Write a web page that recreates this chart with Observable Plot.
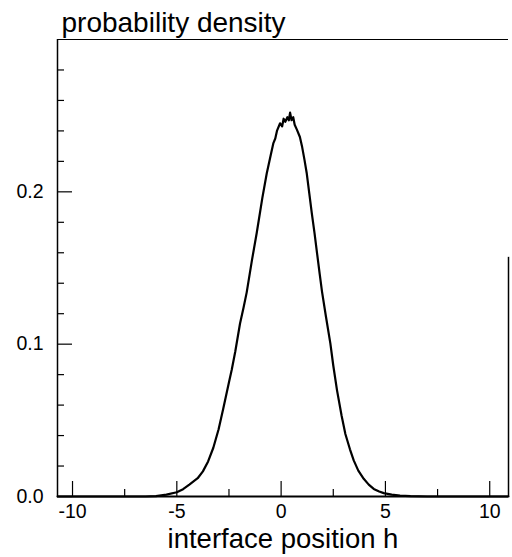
<!DOCTYPE html>
<html>
<head>
<meta charset="utf-8">
<script src="https://cdn.jsdelivr.net/npm/d3@7"></script>
<script src="https://cdn.jsdelivr.net/npm/@observablehq/plot@0.6"></script>
<style>
  html, body { margin: 0; padding: 0; background: #fff; }
  #chart svg { display: block; }
</style>
</head>
<body>
<div id="chart"></div>
<script>
// ---- data ----
const hValues = [
  -10.72, -8.0, -6.5, -6.0, -5.5, -5.0, -4.7, -4.4, -4.0, -3.75,
  -3.5, -3.25, -3.0, -2.77, -2.5, -2.37, -2.2, -1.97, -1.8, -1.65,
  -1.4, -1.17, -0.9, -0.69, -0.5, -0.37, -0.28, -0.2, -0.05, 0.05,
  0.12, 0.2, 0.3, 0.37, 0.43, 0.5, 0.58, 0.65, 0.75, 0.9,
  1.0, 1.12, 1.23, 1.35, 1.47, 1.6, 1.72, 1.85, 1.96, 2.15,
  2.36, 2.5, 2.68, 2.9, 3.08, 3.3, 3.48, 3.7, 3.96, 4.2,
  4.44, 4.7, 4.92, 5.3, 5.7, 6.2, 7.0, 10.9
];
const densityValues = [
  0.0, 0.0, 0.0, 0.0003, 0.0012, 0.0028, 0.0048, 0.0078, 0.0120, 0.0165,
  0.0230, 0.0320, 0.0440, 0.0580, 0.0750, 0.0830, 0.0950, 0.1136, 0.1240, 0.1340,
  0.1550, 0.1730, 0.1960, 0.2120, 0.2240, 0.2320, 0.2350, 0.2400, 0.2450, 0.2430,
  0.2480, 0.2460, 0.2490, 0.2470, 0.2520, 0.2470, 0.2490, 0.2440, 0.2410, 0.2360,
  0.2300, 0.2210, 0.2120, 0.1990, 0.1860, 0.1730, 0.1600, 0.1460, 0.1345, 0.1180,
  0.1005, 0.0860, 0.0697, 0.0530, 0.0410, 0.0310, 0.0237, 0.0170, 0.0116, 0.0078,
  0.0050, 0.0033, 0.0022, 0.0012, 0.0006, 0.0002, 0.0, 0.0
];
const xMajorTicks = [-10, -5, 0, 5, 10];
const xMinorTicks = [-7.5, -2.5, 2.5, 7.5];
const yMajorTicks = [0, 0.1, 0.2];
const yMinorTicks = [0.02, 0.04, 0.06, 0.08, 0.12, 0.14, 0.16, 0.18, 0.22, 0.24, 0.26, 0.28];
const xDomain = [-10.72, 10.9];
const yDomain = [0, 0.3];
const frameRightTop = 0.157; // the visible part of the right frame edge
const xLabel = "interface position h";
const yLabel = "probability density";

// ---- layout ----
const W = 512, H = 557;
const mL = 57, mR = 4, mT = 39, mB = 61;
const pw = W - mL - mR, ph = H - mT - mB;
const font = "'Liberation Sans', Arial, Helvetica, sans-serif";

const data = hValues.map((h, i) => ({h, p: densityValues[i]}));

const chart = Plot.plot({
  width: W,
  height: H,
  marginLeft: mL,
  marginRight: mR,
  marginTop: mT,
  marginBottom: mB,
  style: {fontFamily: font, color: "#000", background: "#fff", overflow: "visible"},
  x: {domain: xDomain},
  y: {domain: yDomain},
  marks: [
    // frame
    Plot.ruleX([xDomain[0]], {stroke: "#000", strokeWidth: 1.5}),
    Plot.ruleY([0], {stroke: "#000", strokeWidth: 2}),
    Plot.ruleY([yDomain[1]], {stroke: "#000", strokeWidth: 1.2}),
    Plot.ruleX([xDomain[1]], {y1: 0, y2: frameRightTop, stroke: "#000", strokeWidth: 1.5}),
    // inward ticks
    Plot.tickX(xMajorTicks, {x: d => d, insetTop: ph - 15, stroke: "#000", strokeWidth: 1.2}),
    Plot.tickX(xMinorTicks, {x: d => d, insetTop: ph - 7, stroke: "#000", strokeWidth: 1.2}),
    Plot.tickY(yMajorTicks, {y: d => d, insetRight: pw - 15, stroke: "#000", strokeWidth: 1.2}),
    Plot.tickY(yMinorTicks, {y: d => d, insetRight: pw - 7, stroke: "#000", strokeWidth: 1.2}),
    // tick labels
    Plot.axisX(xMajorTicks, {tickSize: 0, tickPadding: 8, fontSize: 19.5, tickFormat: d => String(d), label: null}),
    Plot.axisY(yMajorTicks, {tickSize: 0, tickPadding: 14, fontSize: 19.5, tickFormat: d => d.toFixed(1), label: null}),
    // curve
    Plot.line(data, {x: "h", y: "p", stroke: "#000", strokeWidth: 2.2, curve: "linear"}),
    // axis titles
    Plot.text([yLabel], {text: d => d, frameAnchor: "top-left", dx: 4, dy: -8, lineAnchor: "bottom", textAnchor: "start", fontSize: 28, fill: "#000"}),
    Plot.text([xLabel], {text: d => d, frameAnchor: "bottom", dy: 51, lineAnchor: "bottom", fontSize: 27.5, fill: "#000"})
  ]
});

document.getElementById("chart").appendChild(chart);
</script>
</body>
</html>
